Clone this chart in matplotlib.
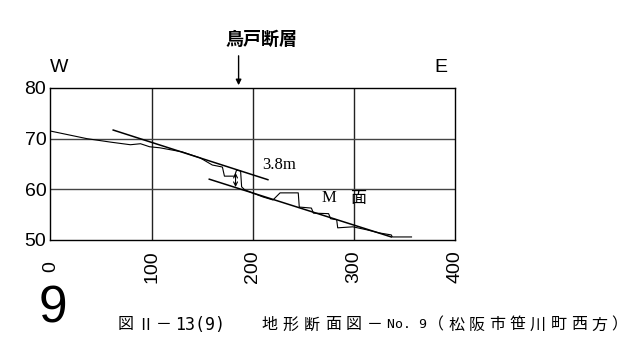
import matplotlib
matplotlib.use("Agg")
import matplotlib.pyplot as plt

# profile data (distance m, elevation m)
prof_x = [0, 36, 60, 79, 89, 98, 108, 130, 148, 160, 170, 172, 182, 184, 188, 189, 192, 210, 220, 227, 245, 246, 258, 260, 275, 277, 283, 284, 299, 313, 325, 337, 338, 357]
prof_y = [71.5, 70.0, 69.3, 68.8, 69.0, 68.4, 68.2, 67.4, 66.2, 64.8, 64.4, 62.6, 62.6, 63.8, 63.6, 60.5, 59.9, 58.5, 57.9, 59.3, 59.3, 56.5, 56.3, 55.3, 55.2, 54.2, 54.0, 52.4, 52.6, 52.0, 51.4, 51.0, 50.6, 50.6]

upper_x = [62, 215]
upper_y = [71.7, 61.9]
lower_x = [157, 337]
lower_y = [62.0, 50.6]

arrow_x = 183
arrow_y = [63.8, 59.9]
fault_x = 186

xticks = [0, 100, 200, 300, 400]
yticks = [50, 60, 70, 80]

cap1_chars = ["図", "Ⅱ", "－"]
cap1_num = "13(9)"
cap2_chars = ["地", "形", "断", "面", "図", "－"]
cap2_num = "No. 9"
cap3_chars = ["（", "松", "阪", "市", "笹", "川", "町", "西", "方", "）"]

fig = plt.figure(figsize=(6.36, 3.59), dpi=100)
ax = fig.add_axes([0.0794, 0.3315, 0.6360, 0.4234])
ax.set_xlim(0, 400)
ax.set_ylim(50, 80)
for v in [100, 200, 300]:
    ax.axvline(v, color="#222222", lw=1.0)
for v in [60, 70]:
    ax.axhline(v, color="#444444", lw=1.0)
ax.plot(prof_x, prof_y, color="black", lw=0.8)
ax.plot(upper_x, upper_y, color="black", lw=1.1)
ax.plot(lower_x, lower_y, color="black", lw=1.1)
ax.annotate("", xy=(arrow_x, arrow_y[1]), xytext=(arrow_x, arrow_y[0]),
            arrowprops=dict(arrowstyle="<->", lw=0.8, color="black", mutation_scale=7))
ax.text(209, 64.8, "3.8m", fontsize=12, family="Liberation Serif", va="center", ha="left")
ax.text(268, 58.2, "M", fontsize=12, family="Liberation Serif", va="center", ha="left")
ax.text(296, 58.2, "面", fontsize=11.5, family=["Noto Sans CJK JP"], va="center", ha="left")

ax.set_xticks(xticks)
ax.set_yticks(yticks)
ax.set_xticklabels([str(v) for v in xticks], rotation=90, fontsize=14,
                   family="Liberation Sans", va="center")
ax.set_yticklabels([str(v) for v in yticks], fontsize=14, family="Liberation Sans")
ax.tick_params(axis="x", length=0, pad=19)
ax.tick_params(axis="y", length=0, pad=3)
for s in ax.spines.values():
    s.set_color("black")
    s.set_linewidth(1.0)

# fault arrow
ax.annotate("", xy=(fault_x, 80), xytext=(fault_x, 86.9), annotation_clip=False,
            arrowprops=dict(arrowstyle="-|>", lw=1.0, color="black", mutation_scale=8))
fig.text(261 / 636, 1 - 39 / 359, "鳥戸断層", fontsize=13, weight="bold",
         family=["Noto Sans CJK JP"], ha="center", va="center")
fig.text(50 / 636, 1 - 68 / 359, "W", fontsize=14, family="Liberation Sans", ha="left", va="center")
fig.text(434 / 636, 1 - 68 / 359, "E", fontsize=14, family="Liberation Sans", ha="left", va="center")

fig.text(53 / 636, 1 - 309 / 359, "9", fontsize=37, family="Liberation Sans", ha="center", va="center")

# caption, letter-spaced
cy = 1 - 325 / 359
cjk = dict(fontsize=11.5, family=["Noto Sans CJK JP", "DejaVu Sans"], ha="center", va="center")
mono = dict(fontsize=12, family="DejaVu Sans Mono", ha="left", va="center")
for i, c in enumerate(cap1_chars):
    fig.text((126 + i * 19) / 636, cy, c, **cjk)
fig.text(175 / 636, cy, cap1_num, **mono)
for i, c in enumerate(cap2_chars):
    fig.text((269 + i * 21.2) / 636, cy, c, **cjk)
fig.text(387 / 636, cy, cap2_num, fontsize=9.5, family="DejaVu Sans Mono", ha="left", va="center")
for i, c in enumerate(cap3_chars):
    fig.text((436 + i * 20.4) / 636, cy, c, **cjk)

fig.savefig("out.png", dpi=100)
